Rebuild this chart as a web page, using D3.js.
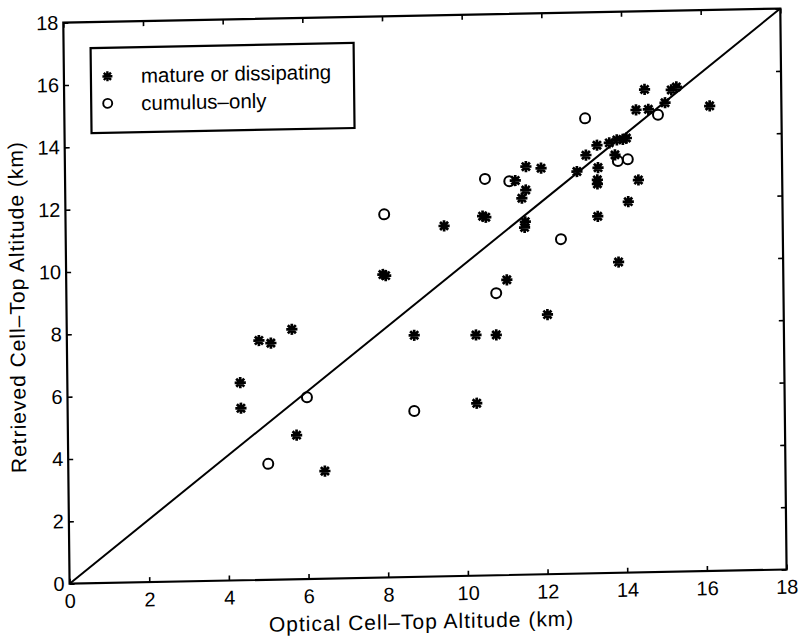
<!DOCTYPE html>
<html>
<head>
<meta charset="utf-8">
<script src="https://cdn.jsdelivr.net/npm/d3@7"></script>
<style>
  body { margin: 0; background: #fff; }
  svg { display: block; }
</style>
</head>
<body>
<div id="chart"></div>
<script>
// values (km)
var matureX = [4.34, 4.35, 4.82, 5.12, 5.65, 5.74, 6.44,
  7.95, 8.02, 8.72, 10.27, 10.78, 10.27, 12.07,
  9.5, 10.47, 10.55, 11.06, 11.3, 11.57, 11.95, 11.56, 11.46, 11.54, 11.52,
  12.85, 13.08, 13.36, 13.38, 13.36, 13.36, 13.36, 13.67, 13.86, 14.01, 14.1, 13.81, 14.39, 14.13, 13.87,
  14.35, 14.66, 15.08, 16.2, 14.57, 15.24, 15.37];
var matureY = [6.34, 5.52, 7.68, 7.59, 8.02, 4.62, 3.45,
  9.72, 9.68, 7.75, 7.72, 7.71, 5.53, 8.33,
  11.24, 11.53, 11.49, 9.47, 12.65, 13.09, 13.03, 12.34, 12.08, 11.32, 11.14,
  12.9, 13.42, 13.73, 13.01, 12.62, 12.49, 11.45, 13.8, 13.89, 13.9, 13.94, 13.41, 12.59, 11.9, 9.97,
  14.84, 14.85, 15.05, 14.92, 15.49, 15.46, 15.55];
var cumulusX = [6.01, 5.02, 10.79, 8.7, 8.0, 10.54, 11.15, 12.43, 13.07, 13.88, 14.13, 14.9];
var cumulusY = [5.83, 3.72, 9.05, 5.32, 11.65, 12.72, 12.63, 10.74, 14.6, 13.21, 13.26, 14.67];
var tickValues = [0, 2, 4, 6, 8, 10, 12, 14, 16, 18];
var legendLabels = ["mature or dissipating", "cumulus\u2013only"];
var xTitle = "Optical Cell\u2013Top Altitude (km)";
var yTitle = "Retrieved Cell\u2013Top Altitude (km)";

var width = 717, height = 561;
var font = "Liberation Sans, Arial, sans-serif";

var svg = d3.select("#chart").append("svg")
  .attr("width", 800)
  .attr("height", 637);

// the scan is slightly skewed, so the whole plot sits in a tilted group
var g = svg.append("g")
  .attr("transform", "translate(63.3,22.7) matrix(1,-0.0198,0.0112,1,0,0)");

var x = d3.scaleLinear().domain([0, 18]).range([0, width]);
var y = d3.scaleLinear().domain([0, 18]).range([height, 0]);

function styleAxis(sel) {
  sel.attr("font-family", font).attr("font-size", 20);
  sel.select(".domain").remove();
  sel.selectAll(".tick line").attr("stroke", "#000").attr("stroke-width", 1.6);
  sel.selectAll(".tick text").attr("fill", "#000");
}

g.append("g")
  .attr("transform", "translate(0," + height + ")")
  .call(d3.axisBottom(x).tickValues(tickValues).tickSizeInner(-5).tickSizeOuter(0).tickPadding(10))
  .call(styleAxis);

g.append("g")
  .call(d3.axisLeft(y).tickValues(tickValues).tickSizeInner(-5).tickSizeOuter(0).tickPadding(5))
  .call(styleAxis);

g.append("g")
  .call(d3.axisTop(x).tickValues(tickValues).tickSizeInner(-5).tickSizeOuter(0).tickFormat(""))
  .call(styleAxis);

g.append("g")
  .attr("transform", "translate(" + width + ",0)")
  .call(d3.axisRight(y).tickValues(tickValues).tickSizeInner(-5).tickSizeOuter(0).tickFormat(""))
  .call(styleAxis);

// frame
g.append("rect")
  .attr("x", 0).attr("y", 0)
  .attr("width", width).attr("height", height)
  .attr("fill", "none")
  .attr("stroke", "#000")
  .attr("stroke-width", 2.2);

// 1:1 line
g.append("line")
  .attr("x1", x(0)).attr("y1", y(0))
  .attr("x2", x(18)).attr("y2", y(18))
  .attr("stroke", "#000")
  .attr("stroke-width", 2);

function starPath(cx, cy, r) {
  var d = r * 0.72;
  return "M" + (cx - r) + "," + cy + "L" + (cx + r) + "," + cy +
    "M" + cx + "," + (cy - r) + "L" + cx + "," + (cy + r) +
    "M" + (cx - d) + "," + (cy - d) + "L" + (cx + d) + "," + (cy + d) +
    "M" + (cx - d) + "," + (cy + d) + "L" + (cx + d) + "," + (cy - d);
}

var mature = matureX.map(function(v, i) { return {x: v, y: matureY[i]}; });
var cumulus = cumulusX.map(function(v, i) { return {x: v, y: cumulusY[i]}; });

g.selectAll(".star")
  .data(mature)
  .enter().append("path")
  .attr("class", "star")
  .attr("d", function(d) { return starPath(x(d.x), y(d.y), 5.6); })
  .attr("stroke", "#000")
  .attr("stroke-width", 2.7)
  .attr("fill", "none");

g.selectAll(".circ")
  .data(cumulus)
  .enter().append("circle")
  .attr("class", "circ")
  .attr("cx", function(d) { return x(d.x); })
  .attr("cy", function(d) { return y(d.y); })
  .attr("r", 5)
  .attr("fill", "none")
  .attr("stroke", "#000")
  .attr("stroke-width", 2);

// legend
var legend = g.append("g");
legend.append("rect")
  .attr("x", 27).attr("y", 26)
  .attr("width", 263).attr("height", 85)
  .attr("fill", "#fff")
  .attr("stroke", "#000")
  .attr("stroke-width", 2.2);
legend.append("path")
  .attr("d", starPath(43.5, 54.5, 5))
  .attr("stroke", "#000")
  .attr("stroke-width", 2.4);
legend.append("circle")
  .attr("cx", 43.5).attr("cy", 81.5).attr("r", 4.5)
  .attr("fill", "none")
  .attr("stroke", "#000")
  .attr("stroke-width", 1.9);
legend.selectAll(".ltext")
  .data(legendLabels)
  .enter().append("text")
  .attr("class", "ltext")
  .attr("x", 77)
  .attr("y", function(d, i) { return 61.5 + i * 27.5; })
  .attr("font-family", font)
  .attr("font-size", 20.5)
  .text(function(d) { return d; });

// axis titles
g.append("text")
  .attr("x", width / 2 - 7)
  .attr("y", height + 52)
  .attr("text-anchor", "middle")
  .attr("font-family", font)
  .attr("font-size", 21)
  .attr("letter-spacing", 1)
  .text(xTitle);

g.append("text")
  .attr("transform", "translate(-42," + (height / 2 + 3) + ") rotate(-90)")
  .attr("text-anchor", "middle")
  .attr("font-family", font)
  .attr("font-size", 21)
  .attr("letter-spacing", 1)
  .text(yTitle);
</script>
</body>
</html>
